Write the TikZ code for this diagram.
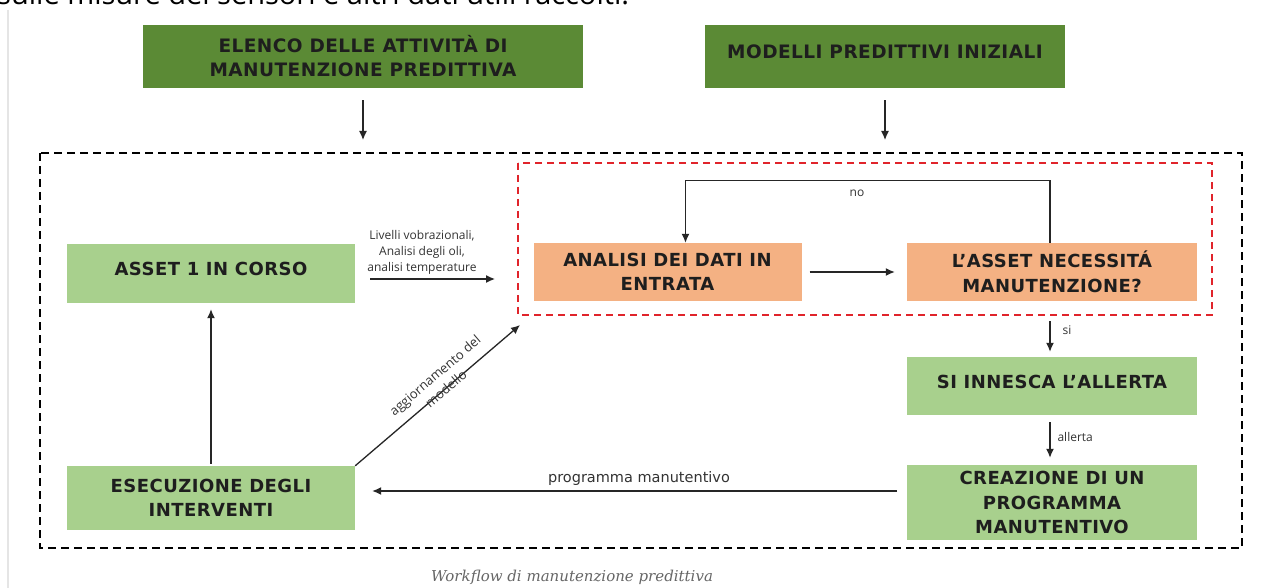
\documentclass[tikz,border=0pt]{standalone}
\usepackage{fontspec}
\setmainfont{Open Sans}
\newfontfamily\boxfont[LetterSpace = 2.5]{DejaVu Sans}
\newfontfamily\lblfont{DejaVu Sans}
\newfontfamily\capfont{DejaVu Serif}
\usetikzlibrary{arrows.meta}

\definecolor{darkgreen}{HTML}{5B8A35}
\definecolor{lightgreen}{HTML}{A8D08D}
\definecolor{salmon}{HTML}{F4B183}
\definecolor{dashred}{HTML}{E0242B}
\definecolor{boxtext}{HTML}{1E1E1E}

\tikzset{
	box/.style = {rectangle, align = center, text = boxtext, inner sep = 0pt,
		font = \boxfont\bfseries\fontsize{18}{24.5}\selectfont},
	topbox/.style = {box, fill = darkgreen, minimum height = 63pt,
		font = \boxfont\bfseries\fontsize{18.5}{24}\selectfont},
	greenbox/.style = {box, fill = lightgreen},
	orangebox/.style = {box, fill = salmon, minimum width = 268pt, minimum height = 58pt},
	raised/.style = {text depth = 9pt},
	lbl/.style = {text = black!80, font = \fontsize{12}{16}\selectfont, align = center},
	arr/.style = {-{Latex[length = 9pt, width = 8pt]}, line width = 1.3pt, black!85}
}

\begin{document}
\begin{tikzpicture}[x = 1pt, y = -1pt]

\useasboundingbox (0, 0) rectangle (1261, 588);
\clip (0, 0) rectangle (1261, 588);
\fill [white] (0, 0) rectangle (1261, 588);

% Text above, cut by the frame

\node [anchor = base west, inner sep = 0pt, font = \fontsize{29}{32}\selectfont] (intro) at (-3, 5)
	{sulle misure dei sensori e altri dati utili raccolti.};
\draw [gray!20, line width = 1.5pt] (8, 10) -- (8, 588);

% Frames

\draw [line width = 2.6pt, dash pattern = on 8pt off 5pt] (40, 153) rectangle (1242, 548);
\draw [line width = 2pt, dashred, dash pattern = on 7pt off 5pt] (518, 163) rectangle (1212, 315);

% Inputs

\node [topbox, minimum width = 440pt] (elenco) at (363, 56.5) {ELENCO DELLE ATTIVITÀ DI\\MANUTENZIONE PREDITTIVA};
\node [topbox, minimum width = 360pt, raised] (modelli) at (885, 56.5) {MODELLI PREDITTIVI INIZIALI};

\draw [arr, shorten < = 12pt, shorten > = 13pt] (elenco.south) -- (elenco.south |- 0, 153);
\draw [arr, shorten < = 12pt, shorten > = 13pt] (modelli.south) -- (modelli.south |- 0, 153);

% Left column

\node [greenbox, minimum width = 288pt, minimum height = 59pt, raised] (asset) at (211, 273.5) {ASSET 1 IN CORSO};
\node [greenbox, minimum width = 288pt, minimum height = 64pt] (esec) at (211, 498) {ESECUZIONE DEGLI\\INTERVENTI};

% Analysis loop

\node [orangebox] (analisi) at (667.5, 272) {ANALISI DEI DATI IN\\ENTRATA};
\node [orangebox, minimum width = 290pt] (decision) at (1052, 272) {L’ASSET NECESSITÁ\\MANUTENZIONE?};

% Right column

\node [greenbox, minimum width = 290pt, minimum height = 58pt, raised] (allerta) at (1052, 386) {SI INNESCA L’ALLERTA};
\node [greenbox, minimum width = 290pt, minimum height = 75pt] (programma) at (1052, 502.5) {CREAZIONE DI UN\\PROGRAMMA\\MANUTENTIVO};

% Connectors

\coordinate (livin) at (495, 279);
\draw [arr] (asset.east |- livin) ++(15, 0) -- (livin);
\node [lbl] (livlbl) at (422, 252) {Livelli vobrazionali,\\Analisi degli oli,\\analisi temperature};

\draw [arr, shorten < = 8pt, shorten > = 12pt] (analisi) -- (decision);

\draw [arr] ([xshift = -2pt]decision.north) |- ++(0, -62) -| ([xshift = 18pt]analisi.north);
\node [lbl] (nolbl) at (857, 193) {no};

\draw [arr, shorten < = 20pt, shorten > = 5pt] ([xshift = -2pt]decision.south) -- ([xshift = -2pt]allerta.north);
\node [lbl, anchor = west] (silbl) at (1059, 330) {si};

\draw [arr, shorten < = 7pt, shorten > = 7pt] ([xshift = -2pt]allerta.south) -- ([xshift = -2pt]programma.north);
\node [lbl, anchor = west] (allbl) at (1054, 437) {allerta};

\coordinate (progout) at (897, 491);
\draw [arr, shorten > = 17pt] (progout) -- (esec.east |- progout);
\node [lbl, font = \lblfont\fontsize{14.5}{16}\selectfont] (proglbl) at (639, 478) {programma manutentivo};

\draw [arr, shorten < = 2pt, shorten > = 6pt] (esec) -- (asset);

\coordinate (updin) at (520, 325);
\draw [arr] (esec.north east) -- (updin)
	node [pos = 0.55, sloped, anchor = south, yshift = -9pt, lbl, font = \fontsize{13}{17}\selectfont] (updlbl) {aggiornamento del\\modello};

% Caption

\node [text = black!60, font = \capfont\itshape\fontsize{15}{18}\selectfont] (caption) at (572, 577) {Workflow di manutenzione predittiva};

\end{tikzpicture}
\end{document}
